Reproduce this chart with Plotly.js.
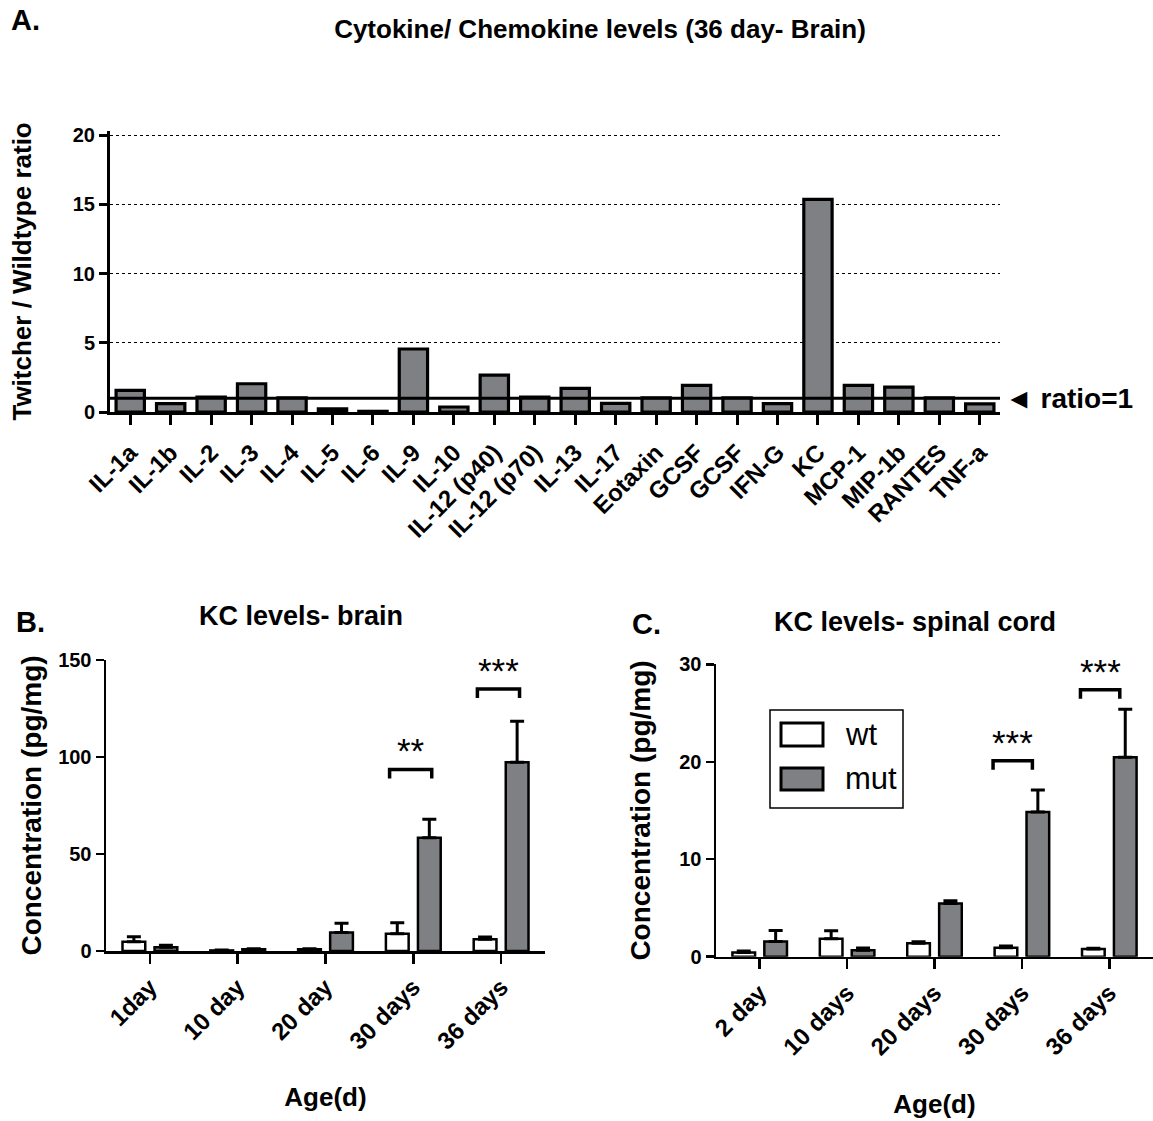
<!DOCTYPE html>
<html>
<head>
<meta charset="utf-8">
<script src="https://cdn.plot.ly/plotly-3.0.1.min.js"></script>
<style>html,body{margin:0;padding:0;background:#fff;}#chart{width:1153px;height:1121px;}</style>
</head>
<body>
<div id="chart"></div>
<script>
// ---- Panel A data ----
const cytokines = ['IL-1a','IL-1b','IL-2','IL-3','IL-4','IL-5','IL-6','IL-9','IL-10','IL-12 (p40)','IL-12 (p70)','IL-13','IL-17','Eotaxin','GCSF','GCSF','IFN-G','KC','MCP-1','MIP-1b','RANTES','TNF-a'];
const ratioTwWt = [1.56,0.60,1.08,2.04,1.03,0.22,0.05,4.55,0.36,2.67,1.08,1.70,0.62,1.03,1.92,1.03,0.60,15.35,1.92,1.80,1.03,0.58];
const ratioRef = 1;
const ratioTicks = [0,5,10,15,20];

// ---- Panel B data (brain) ----
const ageBrain = ['1day','10 day','20 day','30 days','36 days'];
const wtBrain = [4.8,0.3,0.9,8.9,6.0];
const wtBrainSem = [2.6,0.2,0.3,5.7,1.2];
const mutBrain = [1.9,0.9,9.6,58.4,97.3];
const mutBrainSem = [1.0,0.3,4.7,9.5,21.1];
const sigBrain = [{cat:3, y:93.6, label:'**'}, {cat:4, y:135, label:'***'}];

// ---- Panel C data (spinal cord) ----
const ageCord = ['2 day','10 days','20 days','30 days','36 days'];
const wtCord = [0.44,1.85,1.37,0.92,0.79];
const wtCordSem = [0.14,0.82,0.17,0.17,0.07];
const mutCord = [1.57,0.65,5.47,14.85,20.46];
const mutCordSem = [1.13,0.24,0.28,2.25,4.94];
const sigCord = [{cat:3, y:20.1, label:'***'}, {cat:4, y:27.4, label:'***'}];

const GRAY = '#7f8084';
const FONT = 'Liberation Sans, Arial, Helvetica, sans-serif';
const W = 1153, H = 1121;
const px = v => v / W;
const py = v => 1 - v / H;

const zeros = a => a.map(() => 0);

const traces = [
  {type:'bar', x: cytokines.map((c,i)=>i), y: ratioTwWt, xaxis:'x', yaxis:'y', width:0.7,
   marker:{color:GRAY, line:{color:'#000', width:3.2}}, showlegend:false, hoverinfo:'y'},
  {type:'bar', name:'wt', x: ageBrain, y: wtBrain, xaxis:'x2', yaxis:'y2',
   marker:{color:'#fff', line:{color:'#000', width:2.5}},
   error_y:{type:'data', symmetric:false, array: wtBrainSem, arrayminus: zeros(wtBrainSem), color:'#000', thickness:3, width:7},
   showlegend:false},
  {type:'bar', name:'mut', x: ageBrain, y: mutBrain, xaxis:'x2', yaxis:'y2',
   marker:{color:GRAY, line:{color:'#000', width:2.5}},
   error_y:{type:'data', symmetric:false, array: mutBrainSem, arrayminus: zeros(mutBrainSem), color:'#000', thickness:3, width:7},
   showlegend:false},
  {type:'bar', name:'wt', x: ageCord, y: wtCord, xaxis:'x3', yaxis:'y3',
   marker:{color:'#fff', line:{color:'#000', width:2.5}},
   error_y:{type:'data', symmetric:false, array: wtCordSem, arrayminus: zeros(wtCordSem), color:'#000', thickness:3, width:7},
   showlegend:false},
  {type:'bar', name:'mut', x: ageCord, y: mutCord, xaxis:'x3', yaxis:'y3',
   marker:{color:GRAY, line:{color:'#000', width:2.5}},
   error_y:{type:'data', symmetric:false, array: mutCordSem, arrayminus: zeros(mutCordSem), color:'#000', thickness:3, width:7},
   showlegend:false}
];

const axisCommon = {showline:true, linecolor:'#000', ticks:'outside', tickcolor:'#000', zeroline:false, showgrid:false, fixedrange:true};

const shapes = [];
const annotations = [];

// ratio = 1 reference line
shapes.push({type:'line', xref:'x domain', yref:'y', x0:0, x1:1, y0:ratioRef, y1:ratioRef, line:{color:'#000', width:3}});
annotations.push({xref:'paper', yref:'y', x:px(1003), y:ratioRef, xanchor:'left', yanchor:'middle', showarrow:false,
  text:'\u25C4 ratio=1', font:{family:FONT, size:28, color:'#000', weight:'bold'}});

// significance brackets
function addSig(list, xr, yr, legPx, yPxPerUnit, lo, hi) {
  list.forEach(s => {
    const leg = legPx / yPxPerUnit;
    shapes.push({type:'path', xref:xr, yref:yr,
      path:`M ${s.cat+lo},${s.y-leg} L ${s.cat+lo},${s.y} L ${s.cat+hi},${s.y} L ${s.cat+hi},${s.y-leg}`,
      line:{color:'#000', width:3.5}});
    annotations.push({xref:xr, yref:yr, x:s.cat+(lo+hi)/2, y:s.y, yshift:-3, xanchor:'center', yanchor:'bottom', showarrow:false,
      text:s.label, font:{family:FONT, size:35, color:'#000'}});
  });
}
addSig(sigBrain, 'x2', 'y2', 9, 1.94, -0.27, 0.21);
addSig(sigCord, 'x3', 'y3', 9, 9.74, -0.33, 0.12);

// legend (panel C)
shapes.push({type:'rect', xref:'paper', yref:'paper', x0:px(770), x1:px(903), y0:py(808), y1:py(710), line:{color:'#000', width:1.5}, fillcolor:'rgba(0,0,0,0)'});
shapes.push({type:'rect', xref:'paper', yref:'paper', x0:px(781), x1:px(823), y0:py(746), y1:py(723), line:{color:'#000', width:3}, fillcolor:'#fff'});
shapes.push({type:'rect', xref:'paper', yref:'paper', x0:px(781), x1:px(823), y0:py(790), y1:py(768), line:{color:'#000', width:3}, fillcolor:GRAY});
annotations.push({xref:'paper', yref:'paper', x:px(843), y:py(734), xanchor:'left', yanchor:'middle', showarrow:false, text:'wt', font:{family:FONT, size:31, color:'#000'}});
annotations.push({xref:'paper', yref:'paper', x:px(843), y:py(778), xanchor:'left', yanchor:'middle', showarrow:false, text:'mut', font:{family:FONT, size:31, color:'#000'}});

// panel letters and sub-titles
const letterFont = {family:FONT, size:29, color:'#000', weight:'bold'};
annotations.push({xref:'paper', yref:'paper', x:px(9), y:py(20), xanchor:'left', yanchor:'middle', showarrow:false, text:'A.', font:letterFont});
annotations.push({xref:'paper', yref:'paper', x:px(14), y:py(622), xanchor:'left', yanchor:'middle', showarrow:false, text:'B.', font:letterFont});
annotations.push({xref:'paper', yref:'paper', x:px(630), y:py(624), xanchor:'left', yanchor:'middle', showarrow:false, text:'C.', font:letterFont});
annotations.push({xref:'paper', yref:'paper', x:px(301), y:py(616), xanchor:'center', yanchor:'middle', showarrow:false, text:'KC levels- brain', font:{family:FONT, size:27, color:'#000', weight:'bold'}});
annotations.push({xref:'paper', yref:'paper', x:px(915), y:py(622), xanchor:'center', yanchor:'middle', showarrow:false, text:'KC levels- spinal cord', font:{family:FONT, size:27, color:'#000', weight:'bold'}});

// Panel A: range extended a touch above 20 so the dotted 20 gridline shows; domain top adjusted to keep 20 at the same pixel row
const aTop = 20.3, aPxPerUnit = (412 - 135) / 20;

const layout = {
  width:W, height:H, margin:{l:0,r:0,t:0,b:0}, paper_bgcolor:'#fff', plot_bgcolor:'#fff',
  font:{family:FONT, color:'#000'},
  showlegend:false,
  barmode:'group', bargap:0.27, bargroupgap:0.29,
  title:{text:'Cytokine/ Chemokine levels (36 day- Brain)', x:px(600), y:py(29), xref:'paper', yref:'container', xanchor:'center', yanchor:'middle',
    font:{family:FONT, size:26, color:'#000', weight:'bold'}},
  xaxis: Object.assign({}, axisCommon, {domain:[px(110), px(1000)], anchor:'y', range:[-0.5, cytokines.length-0.5],
    tickmode:'array', tickvals: cytokines.map((c,i)=>i), ticktext: cytokines, tickangle:-45,
    ticklen:10, tickwidth:3, linewidth:3, ticklabelstandoff:4, tickfont:{family:FONT, size:24, color:'#000', weight:'bold'}}),
  yaxis: Object.assign({}, axisCommon, {domain:[py(412), py(412 - aTop * aPxPerUnit)], anchor:'x', range:[0,aTop], tickvals: ratioTicks,
    ticklen:8, tickwidth:3, linewidth:3, showgrid:true, gridcolor:'#000', gridwidth:1, griddash:'dot',
    tickfont:{family:FONT, size:20, color:'#000', weight:'bold'},
    title:{text:'Twitcher / Wildtype ratio', standoff:34, font:{family:FONT, size:26, color:'#000', weight:'bold'}}}),
  xaxis2: Object.assign({}, axisCommon, {domain:[px(106), px(545)], anchor:'y2', type:'category', tickangle:-45,
    ticklen:10, tickwidth:2.5, linewidth:2.5, tickfont:{family:FONT, size:24, color:'#000', weight:'bold'},
    title:{text:'Age(d)', standoff:34, font:{family:FONT, size:26, color:'#000', weight:'bold'}}}),
  yaxis2: Object.assign({}, axisCommon, {domain:[py(951), py(660)], anchor:'x2', range:[0,150], tickvals:[0,50,100,150],
    ticklen:8, tickwidth:2.5, linewidth:2.5, tickfont:{family:FONT, size:20, color:'#000', weight:'bold'},
    title:{text:'Concentration (pg/mg)', standoff:9, font:{family:FONT, size:28, color:'#000', weight:'bold'}}}),
  xaxis3: Object.assign({}, axisCommon, {domain:[px(716), px(1153)], anchor:'y3', type:'category', tickangle:-45,
    ticklen:10, tickwidth:2.5, linewidth:2.5, tickfont:{family:FONT, size:24, color:'#000', weight:'bold'},
    title:{text:'Age(d)', standoff:36, font:{family:FONT, size:26, color:'#000', weight:'bold'}}}),
  yaxis3: Object.assign({}, axisCommon, {domain:[py(956.7), py(664.3)], anchor:'x3', range:[0,30], tickvals:[0,10,20,30],
    ticklen:8, tickwidth:2.5, linewidth:2.5, tickfont:{family:FONT, size:20, color:'#000', weight:'bold'},
    title:{text:'Concentration (pg/mg)', standoff:21, font:{family:FONT, size:28, color:'#000', weight:'bold'}}}),
  shapes: shapes,
  annotations: annotations
};

Plotly.newPlot('chart', traces, layout, {staticPlot:true, displayModeBar:false});
</script>
</body>
</html>
